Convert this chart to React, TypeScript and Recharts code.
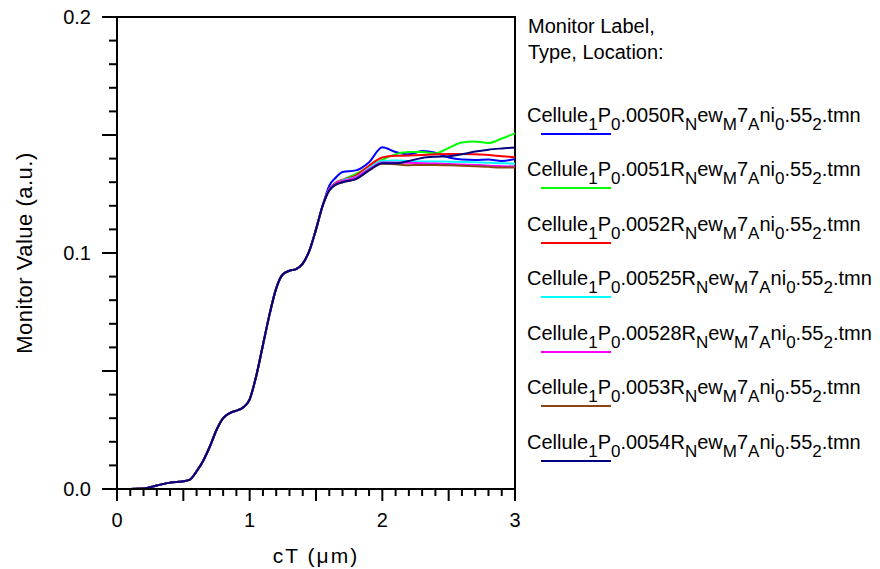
import { LineChart, Line, XAxis, YAxis, ReferenceArea } from "recharts";

// shared rising part (all monitors overlap here)
const riseCt = [0, 0.1, 0.2, 0.3, 0.4, 0.5, 0.55, 0.6, 0.65, 0.7, 0.75, 0.8, 0.85, 0.9, 0.95, 1.0, 1.05, 1.1, 1.15, 1.2, 1.25, 1.3, 1.35, 1.4, 1.45, 1.5, 1.55];
const riseValue = [0, 0, 0.0002, 0.0015, 0.0027, 0.0033, 0.004, 0.0075, 0.012, 0.018, 0.025, 0.03, 0.0322, 0.0332, 0.0345, 0.038, 0.048, 0.061, 0.074, 0.085, 0.091, 0.0925, 0.0932, 0.0955, 0.101, 0.11, 0.12];

// where they split apart
const tailCt = [1.6, 1.65, 1.7, 1.8, 1.9, 2.0, 2.1, 2.2, 2.3, 2.4, 2.5, 2.6, 2.7, 2.8, 2.9, 3.0];
const tail0050 = [0.1285, 0.132, 0.1343, 0.135, 0.1385, 0.1448, 0.1428, 0.1418, 0.1432, 0.1425, 0.1405, 0.1396, 0.1394, 0.1396, 0.139, 0.1398];
const tail0051 = [0.127, 0.1298, 0.131, 0.1335, 0.1365, 0.1395, 0.1418, 0.1428, 0.1428, 0.1422, 0.1445, 0.1468, 0.1472, 0.1466, 0.1485, 0.1507];
const tail0052 = [0.127, 0.1298, 0.131, 0.1328, 0.137, 0.1405, 0.1412, 0.1413, 0.1415, 0.1418, 0.142, 0.142, 0.1418, 0.1415, 0.141, 0.1406];
const tail00525 = [0.127, 0.1295, 0.1308, 0.1322, 0.136, 0.139, 0.1392, 0.139, 0.1388, 0.1388, 0.1387, 0.1386, 0.1385, 0.1382, 0.138, 0.1378];
const tail00528 = [0.127, 0.1295, 0.1305, 0.132, 0.1355, 0.1383, 0.1383, 0.1382, 0.138, 0.1379, 0.1377, 0.1375, 0.1373, 0.137, 0.1368, 0.1366];
const tail0053 = [0.1265, 0.129, 0.13, 0.1313, 0.135, 0.1378, 0.1376, 0.1372, 0.1373, 0.1373, 0.1372, 0.137, 0.1368, 0.1365, 0.1362, 0.1362];
const tail0054 = [0.1265, 0.129, 0.13, 0.1313, 0.135, 0.138, 0.138, 0.139, 0.1403, 0.1408, 0.141, 0.1418, 0.143, 0.1438, 0.1443, 0.1447];

const seriesCodes = ["0050", "0051", "0052", "00525", "00528", "0053", "0054"];
const seriesColors = ["#0000ff", "#00ff00", "#ff0000", "#00ffff", "#ff00ff", "#8b4513", "#000080"];
const seriesTails = [tail0050, tail0051, tail0052, tail00525, tail00528, tail0053, tail0054];

const xTicks = [0, 0.1, 0.2, 0.3, 0.4, 0.5, 0.6, 0.7, 0.8, 0.9, 1, 1.1, 1.2, 1.3, 1.4, 1.5, 1.6, 1.7, 1.8, 1.9, 2, 2.1, 2.2, 2.3, 2.4, 2.5, 2.6, 2.7, 2.8, 2.9, 3];
const yTicks = [0, 0.01, 0.02, 0.03, 0.04, 0.05, 0.06, 0.07, 0.08, 0.09, 0.1, 0.11, 0.12, 0.13, 0.14, 0.15, 0.16, 0.17, 0.18, 0.19, 0.2];
const xLabels = ["0", "1", "2", "3"];
const yLabels = ["0.0", "0.1", "0.2"];

const FONT = '"Liberation Sans", Arial, sans-serif';

const data = [...riseCt, ...tailCt].map((ct, i) => {
  const row: Record<string, number> = { ct };
  seriesCodes.forEach((code, s) => {
    row[code] = i < riseCt.length ? riseValue[i] : seriesTails[s][i - riseCt.length];
  });
  return row;
});

function XTick({ x, y, payload }: any) {
  const v = payload.value as number;
  const tenths = Math.round(v * 10);
  const major = tenths % 5 === 0;
  const label = tenths % 10 === 0 ? xLabels[tenths / 10] : null;
  return (
    <g>
      <line x1={x} x2={x} y1={y} y2={y + (major ? 12 : 7)} stroke="#000" strokeWidth={2} />
      {label && (
        <text x={x} y={y + 38} textAnchor="middle" fontSize={20} fontFamily={FONT} fill="#000">
          {label}
        </text>
      )}
    </g>
  );
}

function YTick({ x, y, payload }: any) {
  const v = payload.value as number;
  const hund = Math.round(v * 100);
  const major = hund % 5 === 0;
  const label = hund % 10 === 0 ? yLabels[hund / 10] : null;
  return (
    <g>
      <line x1={x - (major ? 15 : 8)} x2={x} y1={y} y2={y} stroke="#000" strokeWidth={2} />
      {label && (
        <text x={x - 26} y={y + 7} textAnchor="end" fontSize={20} fontFamily={FONT} fill="#000">
          {label}
        </text>
      )}
    </g>
  );
}

function SeriesName({ code }: { code: string }) {
  const parts: [string, boolean][] = [
    ["Cellule", false], ["1", true], ["P", false], ["0", true], ["." + code + "R", false], ["N", true],
    ["ew", false], ["M", true], ["7", false], ["A", true], ["ni", false], ["0", true], [".55", false], ["2", true], [".tmn", false],
  ];
  return (
    <>
      {parts.map(([t, sub], i) =>
        sub ? (
          <span key={i} style={{ fontSize: "0.85em", position: "relative", top: 8 }}>{t}</span>
        ) : (
          <span key={i}>{t}</span>
        )
      )}
    </>
  );
}

export default function App() {
  return (
    <div style={{ position: "absolute", left: 0, top: 0, width: 880, height: 569, background: "#fff", fontFamily: FONT }}>
      <LineChart width={880} height={569} data={data} margin={{ top: 17, right: 365, bottom: 0, left: 57 }}>
        <XAxis
          dataKey="ct"
          type="number"
          domain={[0, 3]}
          ticks={xTicks}
          interval={0}
          tickSize={0}
          tickMargin={0}
          tickLine={false}
          tick={<XTick />}
          height={80}
          axisLine={{ stroke: "#000", strokeWidth: 2 }}
          label={{
            content: ({ viewBox }: any) => (
              <text x={viewBox.x + viewBox.width / 2} y={viewBox.y + 74} textAnchor="middle" fontSize={21} letterSpacing={2} fontFamily={FONT} fill="#000">
                cT (μm)
              </text>
            ),
          }}
        />
        <YAxis
          type="number"
          domain={[0, 0.2]}
          ticks={yTicks}
          interval={0}
          tickSize={0}
          tickMargin={0}
          tickLine={false}
          tick={<YTick />}
          width={60}
          axisLine={{ stroke: "#000", strokeWidth: 2 }}
          label={{
            content: ({ viewBox }: any) => {
              const cx = viewBox.x - 25;
              const cy = viewBox.y + viewBox.height / 2;
              return (
                <text x={cx} y={cy} transform={`rotate(-90 ${cx} ${cy})`} textAnchor="middle" fontSize={22} letterSpacing={0.5} fontFamily={FONT} fill="#000">
                  Monitor Value (a.u.)
                </text>
              );
            },
          }}
        />
        <ReferenceArea x1={0} x2={3} y1={0} y2={0.2} fill="none" stroke="#000" strokeWidth={2} ifOverflow="visible" />
        {seriesCodes.map((code, s) => (
          <Line
            key={code}
            type="monotone"
            dataKey={code}
            stroke={seriesColors[s]}
            strokeWidth={2}
            dot={false}
            isAnimationActive={false}
          />
        ))}
      </LineChart>

      <div style={{ position: "absolute", left: 528, top: 15.7, fontSize: 20, lineHeight: "20px", color: "#000", whiteSpace: "nowrap" }}>
        Monitor Label,
      </div>
      <div style={{ position: "absolute", left: 528, top: 42.4, fontSize: 20, lineHeight: "20px", color: "#000", whiteSpace: "nowrap" }}>
        Type, Location:
      </div>
      {seriesCodes.map((code, s) => {
        const top = 104.7 + s * 54.55;
        return (
          <div key={code}>
            <div style={{ position: "absolute", left: 527, top, fontSize: 20, lineHeight: "20px", color: "#000", whiteSpace: "nowrap" }}>
              <SeriesName code={code} />
            </div>
            <div style={{ position: "absolute", left: 541, top: top + 28, width: 70, height: 2, background: seriesColors[s] }} />
          </div>
        );
      })}
    </div>
  );
}
